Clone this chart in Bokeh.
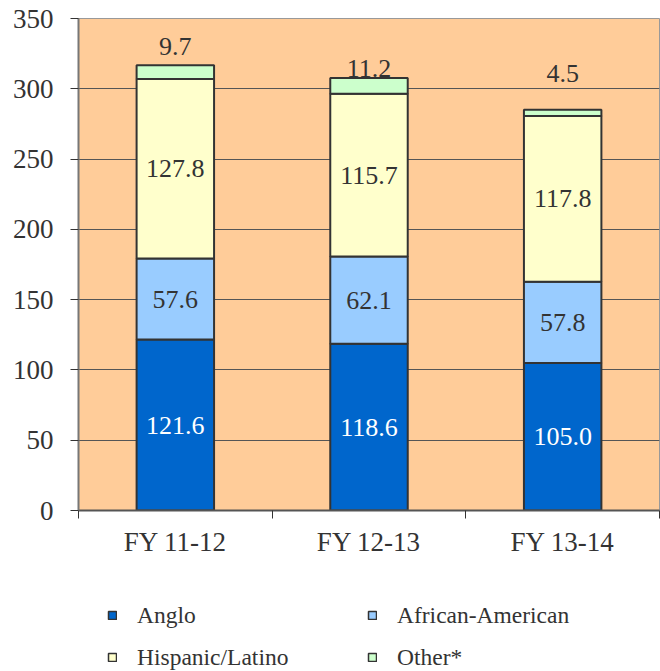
import numpy as np
from bokeh.plotting import figure
from bokeh.layouts import column
from bokeh.models import Range1d, FixedTicker, Legend, LegendItem, ColumnDataSource
from bokeh.core.properties import value
from bokeh.embed import file_html
from bokeh.resources import INLINE

categories = ["FY 11-12", "FY 12-13", "FY 13-14"]
series = ["Anglo", "African-American", "Hispanic/Latino", "Other*"]
anglo = [121.6, 118.6, 105.0]
african_american = [57.6, 62.1, 57.8]
hispanic = [127.8, 115.7, 117.8]
other = [9.7, 11.2, 4.5]
colors = ["#0066CC", "#99CCFF", "#FFFFCC", "#CCFFCC"]
y_ticks = [0, 50, 100, 150, 200, 250, 300, 350]
other_label_offset = [19, 10, 36]  # px above bar top

FONT = "Liberation Serif, Times New Roman, serif"
TXT = "#333333"

x = np.arange(len(categories)) + 0.5
data = {"x": x, "Anglo": anglo, "African-American": african_american,
        "Hispanic/Latino": hispanic, "Other*": other}
src = ColumnDataSource(data)

p = figure(width=660, height=575, output_backend="svg", toolbar_location=None,
           x_range=Range1d(0, 3), y_range=Range1d(0, 350),
           min_border_left=78, min_border_right=1, min_border_top=18, min_border_bottom=65,
           background_fill_color="#FFCC99", border_fill_color="white")
p.outline_line_color = "#999999"
p.outline_line_width = 1

rs = p.vbar_stack(series, x="x", width=0.4, source=src, fill_color=colors,
                  line_color="#333333", line_width=2)

# labels inside segments
vals = np.array([anglo, african_american, hispanic])
cum = np.cumsum(vals, axis=0)
mids = cum - vals / 2
for i in range(3):
    col = "white" if i == 0 else TXT
    p.text(x=x, y=mids[i], text=[f"{v:.1f}" for v in vals[i]],
           text_font=value(FONT), text_font_size="26px", text_color=col,
           text_align="center", text_baseline="middle")
totals = cum[-1] + np.array(other)
p.text(x=x, y=totals, text=[f"{v:.1f}" for v in other], y_offset=[-o for o in other_label_offset],
       text_font=value(FONT), text_font_size="26px", text_color=TXT,
       text_align="center", text_baseline="middle")

# axes
p.yaxis.ticker = FixedTicker(ticks=y_ticks)
p.yaxis.major_tick_in = 0
p.yaxis.major_tick_out = 8
p.yaxis.minor_tick_line_color = None
p.yaxis.major_tick_line_color = "#333333"
p.yaxis.axis_line_color = "#777777"
p.yaxis.axis_line_width = 2
p.yaxis.major_label_standoff = 17
p.yaxis.major_label_text_font = FONT
p.yaxis.major_label_text_font_size = "27px"
p.yaxis.major_label_text_color = TXT

p.xaxis.ticker = FixedTicker(ticks=list(x), minor_ticks=[0, 1, 2, 3])
p.xaxis.major_label_overrides = {float(xx): c for xx, c in zip(x, categories)}
p.xaxis.major_tick_line_color = None
p.xaxis.minor_tick_in = 0
p.xaxis.minor_tick_out = 8
p.xaxis.minor_tick_line_color = "#333333"
p.xaxis.axis_line_color = "#555555"
p.xaxis.axis_line_width = 2
p.xaxis.major_label_standoff = 8
p.xaxis.major_label_text_font = FONT
p.xaxis.major_label_text_font_size = "27px"
p.xaxis.major_label_text_color = TXT

p.xgrid.grid_line_color = None
p.ygrid.ticker = FixedTicker(ticks=y_ticks)
p.ygrid.grid_line_color = "#555555"
p.ygrid.grid_line_width = 1

# legend figure (frame aligned with main figure's frame by the column layout)
lg = figure(width=660, height=96, output_backend="svg", toolbar_location=None,
            x_range=Range1d(0, 1), y_range=Range1d(0, 1),
            min_border_left=78, min_border_right=1, min_border_top=0, min_border_bottom=0,
            x_axis_type=None, y_axis_type=None, outline_line_color=None)
lg.grid.grid_line_color = None
# hidden legend proxies: only their legend swatches are drawn
proxies = []
for c in colors:
    r = lg.vbar(x=[0.5], top=[1], width=0.1, fill_color=c, line_color="#333333", line_width=1.5)
    r.visible = False
    proxies.append(r)
items = [LegendItem(label=s, renderers=[r]) for s, r in zip(series, proxies)]
legend = Legend(items=items, ncols=2, location=(29, 0), orientation="horizontal",
                glyph_width=10, glyph_height=10, label_standoff=20,
                label_width=216, label_height=28, spacing=14, padding=0, margin=0,
                border_line_color=None, background_fill_alpha=0,
                inactive_fill_alpha=0,
                label_text_font=FONT, label_text_font_size="23.5px", label_text_color=TXT)
lg.add_layout(legend, "center")

open("out.html", "w").write(file_html(column(p, lg, spacing=0), INLINE))
